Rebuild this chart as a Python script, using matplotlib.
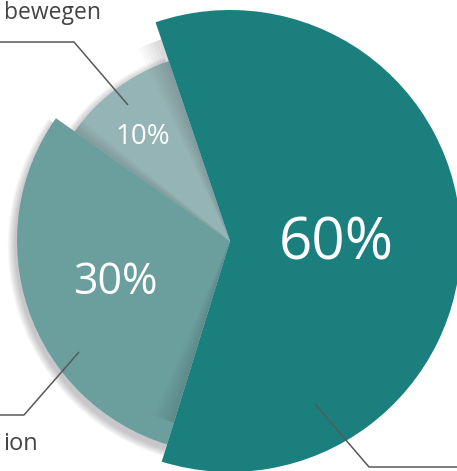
import matplotlib.pyplot as plt
from matplotlib.patches import Wedge
import numpy as np

# slices, counterclockwise starting from the lower edge of the big slice
shares = [60, 10, 30]
slice_labels = ['60%', '10%', '30%']
slice_colors = ['#1b807d', '#95b4b5', '#6b9f9e']
radii = [231, 190, 213]
label_sizes = [42, 20, 31]
label_pos = [(336, 244), (143, 137), (115, 283)]
start_angle = -107.2

W, H = 457, 471
fig = plt.figure(figsize=(W / 100, H / 100), dpi=100)
ax = fig.add_axes([0, 0, 1, 1])
ax.set_xlim(0, W)
ax.set_ylim(H, 0)
ax.axis('off')

cx, cy = 230, 241
plt.rcParams['font.family'] = ['Open Sans', 'DejaVu Sans']

angles = start_angle + np.cumsum([0] + shares) * 3.6
wedges = []
for i in range(len(shares)):
    # y axis is inverted, so angles are mirrored
    t1, t2 = -angles[i + 1], -angles[i]
    wedges.append((t1, t2))

GREY = '#40404a'

def outer_shadow(t1, t2, r, dx, dy, z):
    # soft shadow beyond the outer arc only
    for k in range(9):
        ax.add_patch(Wedge((cx + dx, cy + dy), r + k * 0.9, t1, t2,
                           facecolor=GREY, edgecolor='none', alpha=0.035, zorder=z))

def edge_shadow(t, r, direction, z, steps=8, width=1.0, alpha=0.035):
    # shadow cast across a straight edge onto the slice behind
    for k in range(steps):
        a = 0.5 + k * width
        t1, t2 = (t, t + a) if direction > 0 else (t - a, t)
        ax.add_patch(Wedge((cx, cy), r, t1, t2, facecolor=GREY,
                           edgecolor='none', alpha=alpha, zorder=z))

# 10% slice (back)
t1, t2 = wedges[1]
outer_shadow(t1, t2, radii[1], -2, 3, 1)
ax.add_patch(Wedge((cx, cy), radii[1], t1, t2, facecolor=slice_colors[1], edgecolor='none', zorder=3))

# 30% slice (middle)
t1, t2 = wedges[2]
edge_shadow(t2, radii[1], +1, 4, steps=6, width=0.7)
outer_shadow(t1, t2, radii[2], -2, 5, 4)
ax.add_patch(Wedge((cx, cy), radii[2], t1, t2, facecolor=slice_colors[2], edgecolor='none', zorder=5))

# 60% slice (front)
t1, t2 = wedges[0]
edge_shadow(t1, radii[2], -1, 6, steps=7, width=1.0, alpha=0.03)
edge_shadow(t2, radii[1], +1, 6, steps=7, width=1.0, alpha=0.03)
ax.add_patch(Wedge((cx, cy), radii[0], t1, t2, facecolor=slice_colors[0], edgecolor='none', zorder=7))

for i in range(len(shares)):
    x, y = label_pos[i]
    ax.text(x, y, slice_labels[i], color='white', fontsize=label_sizes[i],
            ha='center', va='center', zorder=20)

# leader lines and outer labels
line_kw = dict(color='#58585c', lw=1.1, zorder=21, solid_capstyle='butt')
ax.plot([128, 74, -5], [105, 42, 42], **line_kw)
ax.plot([79, 24, -5], [352, 415, 415], **line_kw)
ax.plot([315, 369, 462], [404, 467, 467], **line_kw)

ax.text(101, 19, 'bewegen', color='#444446', fontsize=16.5, ha='right', va='baseline', zorder=21)
ax.text(38, 450, 'ion', color='#444446', fontsize=17, ha='right', va='baseline', zorder=21)

fig.savefig('out.png', dpi=100)
